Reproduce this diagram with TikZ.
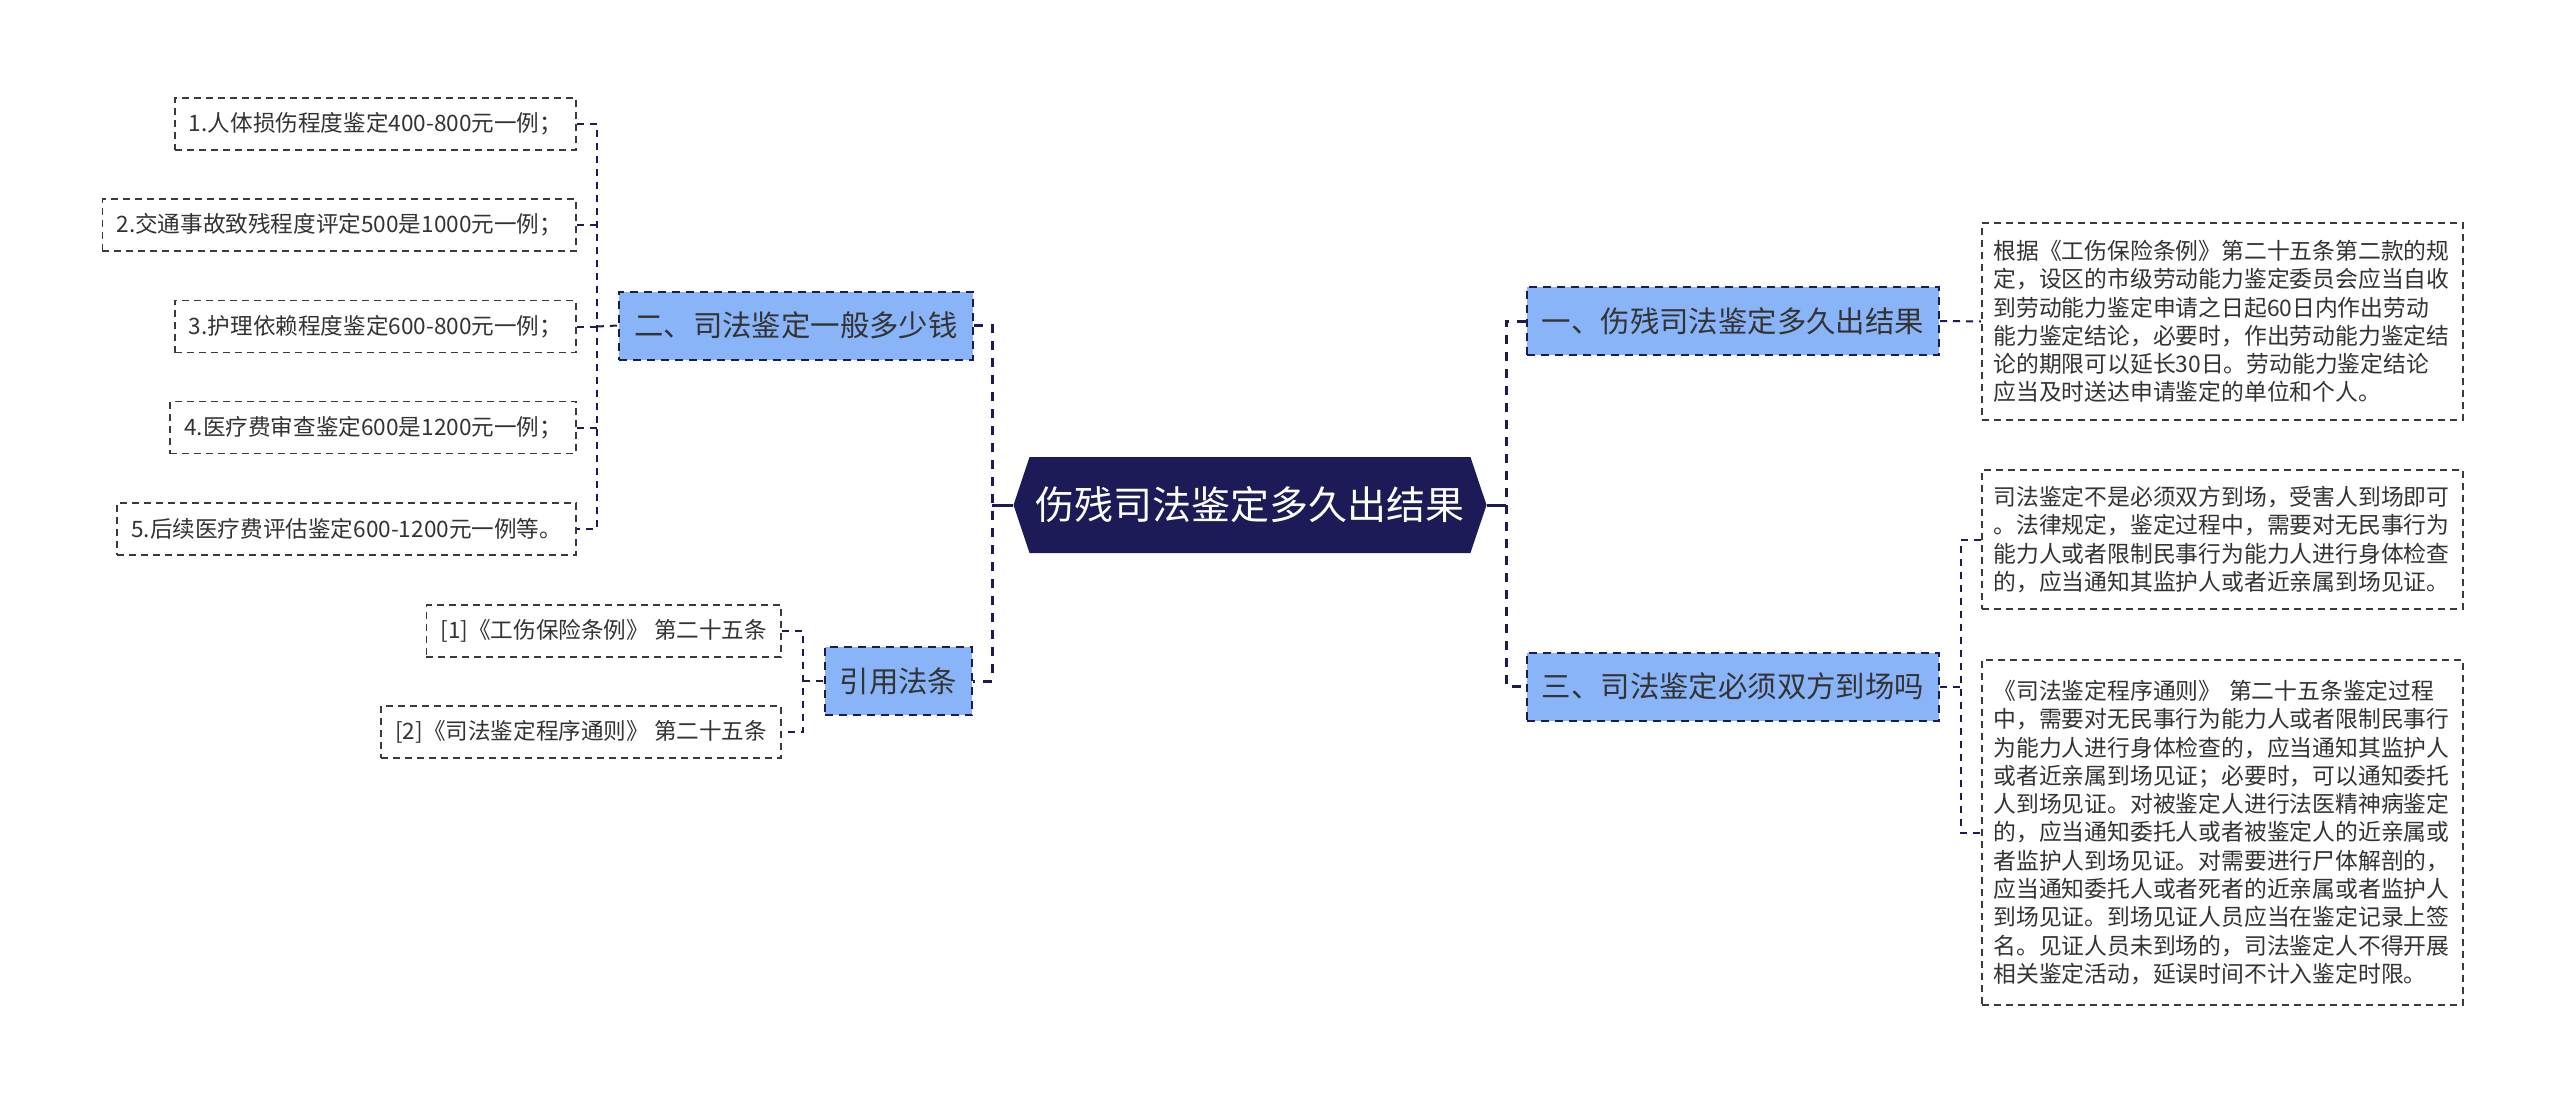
\documentclass[tikz,border=0pt]{standalone}
\usepackage{fontspec}
\newfontfamily\cjk{Noto Sans CJK SC}
\usetikzlibrary{shapes.symbols}
\definecolor{navy}{HTML}{1C1B57}
\definecolor{topicblue}{HTML}{8AB4F8}
\definecolor{leafgray}{HTML}{3A3A3A}
\definecolor{inkgray}{HTML}{333333}

\begin{document}
\begin{tikzpicture}[x=0.5pt, y=-0.5pt, font=\cjk, text=inkgray,
    rootbox/.style={signal, signal to=west and east, signal pointer angle=143,
      fill=navy, text=white, font=\cjk\fontsize{19.5}{23}\selectfont,
      minimum height=48pt, minimum width=236.5pt, inner xsep=1pt},
    topic/.style={draw=navy, line width=1pt, dash pattern=on 4pt off 3pt,
      fill=topicblue, font=\cjk\fontsize{14.7}{17}\selectfont,
      minimum height=34pt, inner xsep=7.5pt},
    leaf/.style={draw=leafgray, line width=0.9pt, dash pattern=on 3.5pt off 2.5pt,
      font=\cjk\fontsize{11.3}{14}\selectfont, minimum height=26pt, inner xsep=7pt},
    para/.style={leaf, align=left, text width=229pt, inner xsep=5.75pt,
      font=\cjk\fontsize{11.4}{14.15}\selectfont},
    rootline/.style={draw=navy, line width=1.5pt},
    trunk/.style={draw=navy, line width=1.5pt, dash pattern=on 4.5pt off 4pt},
    twig/.style={draw=navy, line width=1pt, dash pattern=on 3.5pt off 3pt}
    ]
    \path[use as bounding box, fill=white] (0,0) rectangle (2560,1104);

    \node[rootbox] (root) at (1250,505) {伤残司法鉴定多久出结果};
    \node[topic] (b2) at (796,325.5) {二、司法鉴定一般多少钱};
    \node[topic] (ref) at (898.5,681) {引用法条};
    \node[topic] (b1) at (1733,321) {一、伤残司法鉴定多久出结果};
    \node[topic] (b3) at (1733,686.5) {三、司法鉴定必须双方到场吗};

    \node[leaf, anchor=east] (l1) at (577,124) {1.人体损伤程度鉴定400-800元一例；};
    \node[leaf, anchor=east] (l2) at (577,225) {2.交通事故致残程度评定500是1000元一例；};
    \node[leaf, anchor=east] (l3) at (577,326.5) {3.护理依赖程度鉴定600-800元一例；};
    \node[leaf, anchor=east] (l4) at (577,427.5) {4.医疗费审查鉴定600是1200元一例；};
    \node[leaf, anchor=east] (l5) at (577,529) {5.后续医疗费评估鉴定600-1200元一例等。};

    \node[leaf, anchor=east] (r1) at (782,631) {[1]《工伤保险条例》 第二十五条};
    \node[leaf, anchor=east] (r2) at (782,732) {[2]《司法鉴定程序通则》 第二十五条};

    \node[para, anchor=west, minimum height=98.5pt] (ta) at (1981,321.5) {根据《工伤保险条例》第二十五条第二款的规\\定，设区的市级劳动能力鉴定委员会应当自收\\到劳动能力鉴定申请之日起60日内作出劳动\\能力鉴定结论，必要时，作出劳动能力鉴定结\\论的期限可以延长30日。劳动能力鉴定结论\\应当及时送达申请鉴定的单位和个人。};
    \node[para, anchor=west, minimum height=69.5pt] (tb) at (1981,539.5) {司法鉴定不是必须双方到场，受害人到场即可\\。法律规定，鉴定过程中，需要对无民事行为\\能力人或者限制民事行为能力人进行身体检查\\的，应当通知其监护人或者近亲属到场见证。};
    \node[para, anchor=west, minimum height=172.5pt] (tc) at (1981,832.5) {《司法鉴定程序通则》 第二十五条鉴定过程\\中，需要对无民事行为能力人或者限制民事行\\为能力人进行身体检查的，应当通知其监护人\\或者近亲属到场见证；必要时，可以通知委托\\人到场见证。对被鉴定人进行法医精神病鉴定\\的，应当通知委托人或者被鉴定人的近亲属或\\者监护人到场见证。对需要进行尸体解剖的，\\应当通知委托人或者死者的近亲属或者监护人\\到场见证。到场见证人员应当在鉴定记录上签\\名。见证人员未到场的，司法鉴定人不得开展\\相关鉴定活动，延误时间不计入鉴定时限。};

    \coordinate (lt) at (992,505);
    \coordinate (rt) at (1506,505);
    \coordinate (lj) at (597,326.5);
    \coordinate (rj) at (803,681);
    \coordinate (tj) at (1961,686.5);

    \draw[rootline] (root.west) -- (lt);
    \draw[rootline] (root.east) -- (rt);
    \draw[trunk] (b2.east) -| (lt) |- (ref.east);
    \draw[trunk] (b1.west) -| (rt) |- (b3.west);
    \draw[twig] (l1.east) -| (lj) |- (l5.east);
    \foreach \i in {2,3,4}
      \draw[twig] (l\i.east) -- (l\i.east -| lj);
    \draw[twig] (lj) -- (b2.west);
    \draw[twig] (r1.east) -| (rj) |- (r2.east);
    \draw[twig] (rj) -- (ref.west);
    \draw[twig] (b1.east) -- (ta.west);
    \draw[twig] (tb.west) -| (tj) |- (tc.west);
    \draw[twig] (b3.east) -- (tj);
\end{tikzpicture}
\end{document}
